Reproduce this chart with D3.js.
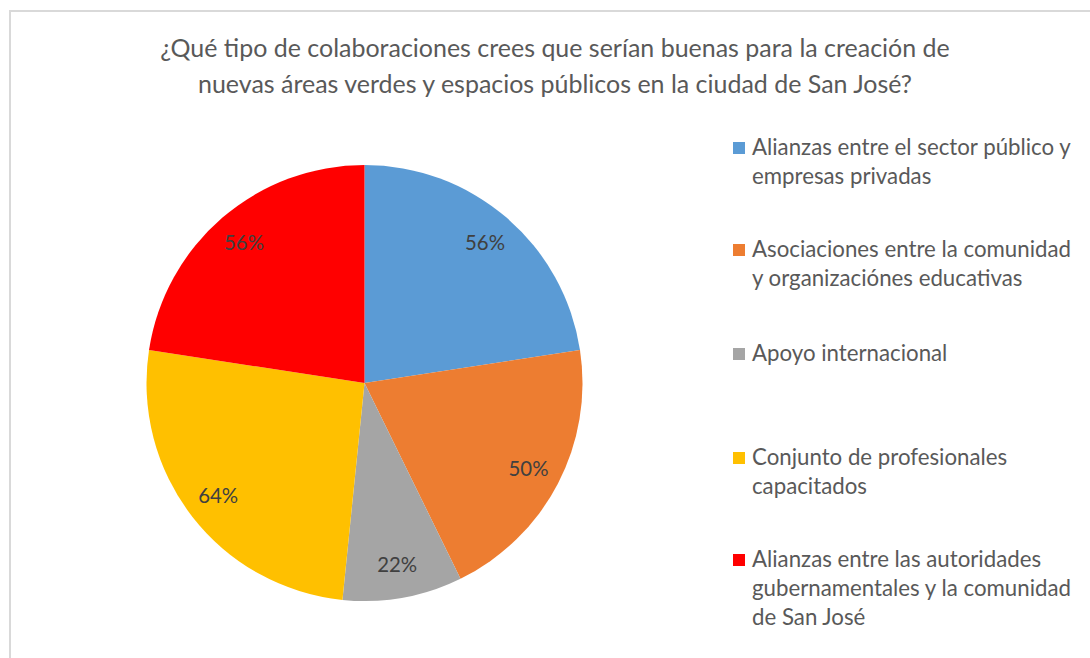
<!DOCTYPE html>
<html>
<head>
<meta charset="utf-8">
<script src="https://cdn.jsdelivr.net/npm/d3@7"></script>
<style>
  body { margin: 0; background: #fff; }
  text { font-family: Lato, "Open Sans", sans-serif; }
</style>
</head>
<body>
<div id="chart"></div>
<script>
const titleLines = [
  "¿Qué tipo de colaboraciones crees que serían buenas para la creación de",
  "nuevas áreas verdes y espacios públicos en la ciudad de San José?"
];
const categories = [
  ["Alianzas entre el sector público y", "empresas privadas"],
  ["Asociaciones entre la comunidad", "y organizaciónes educativas"],
  ["Apoyo internacional"],
  ["Conjunto de profesionales", "capacitados"],
  ["Alianzas entre las autoridades", "gubernamentales y la comunidad", "de San José"]
];
const values = [56, 50, 22, 64, 56];
const colors = ["#5B9BD5", "#ED7D31", "#A5A5A5", "#FFC000", "#FF0000"];

const W = 1090, H = 658;
const cx = 364.5, cy = 383, radius = 218;

const svg = d3.select("#chart").append("svg")
    .attr("width", W)
    .attr("height", H);

// chart frame
svg.append("path")
    .attr("d", `M10,${H} L10,11 L${W},11`)
    .attr("fill", "none")
    .attr("stroke", "#d9d9d9")
    .attr("stroke-width", 2);

// fit a font size so a string spans a target width
function fitSize(str, target, base) {
  const t = svg.append("text").style("font-size", base + "px").text(str);
  const w = t.node().getComputedTextLength();
  t.remove();
  return base * target / w;
}

const titleSize = fitSize(titleLines[0], 790, 24);
svg.append("g").selectAll("text")
    .data(titleLines).enter()
    .append("text")
      .attr("x", 555)
      .attr("y", function(d, i) { return 57 + i * 36; })
      .attr("text-anchor", "middle")
      .attr("fill", "#595959")
      .style("font-size", titleSize + "px")
      .text(function(d) { return d; });

const pie = d3.pie().sort(null).value(function(d) { return d; });
const arcs = pie(values);
const arc = d3.arc().innerRadius(0).outerRadius(radius);
const labelArc = d3.arc().innerRadius(185).outerRadius(185);

const g = svg.append("g").attr("transform", `translate(${cx},${cy})`);

g.selectAll("path")
    .data(arcs).enter()
    .append("path")
      .attr("d", arc)
      .attr("fill", function(d, i) { return colors[i]; });

const labelSize = fitSize("56%", 40, 20);
g.selectAll("text.lbl")
    .data(arcs).enter()
    .append("text")
      .attr("class", "lbl")
      .attr("transform", function(d) { return `translate(${labelArc.centroid(d)})`; })
      .attr("text-anchor", "middle")
      .attr("dy", "0.35em")
      .attr("fill", "#404040")
      .style("font-size", labelSize + "px")
      .text(function(d) { return d.data + "%"; });

// legend
const legendSize = fitSize("Asociaciones entre la comunidad", 319, 20);
const legendTops = [155, 257, 361, 465, 567];
const legend = svg.append("g").selectAll("g")
    .data(categories).enter()
    .append("g")
      .attr("transform", function(d, i) { return `translate(733,${legendTops[i]})`; });

legend.append("rect")
    .attr("x", 0)
    .attr("y", -13)
    .attr("width", 12)
    .attr("height", 12)
    .attr("fill", function(d, i) { return colors[i]; });

legend.append("text")
    .attr("fill", "#595959")
    .style("font-size", legendSize + "px")
    .selectAll("tspan")
    .data(function(d) { return d; }).enter()
    .append("tspan")
      .attr("x", 19)
      .attr("y", function(d, i) { return i * 29; })
      .text(function(d) { return d; });
</script>
</body>
</html>
